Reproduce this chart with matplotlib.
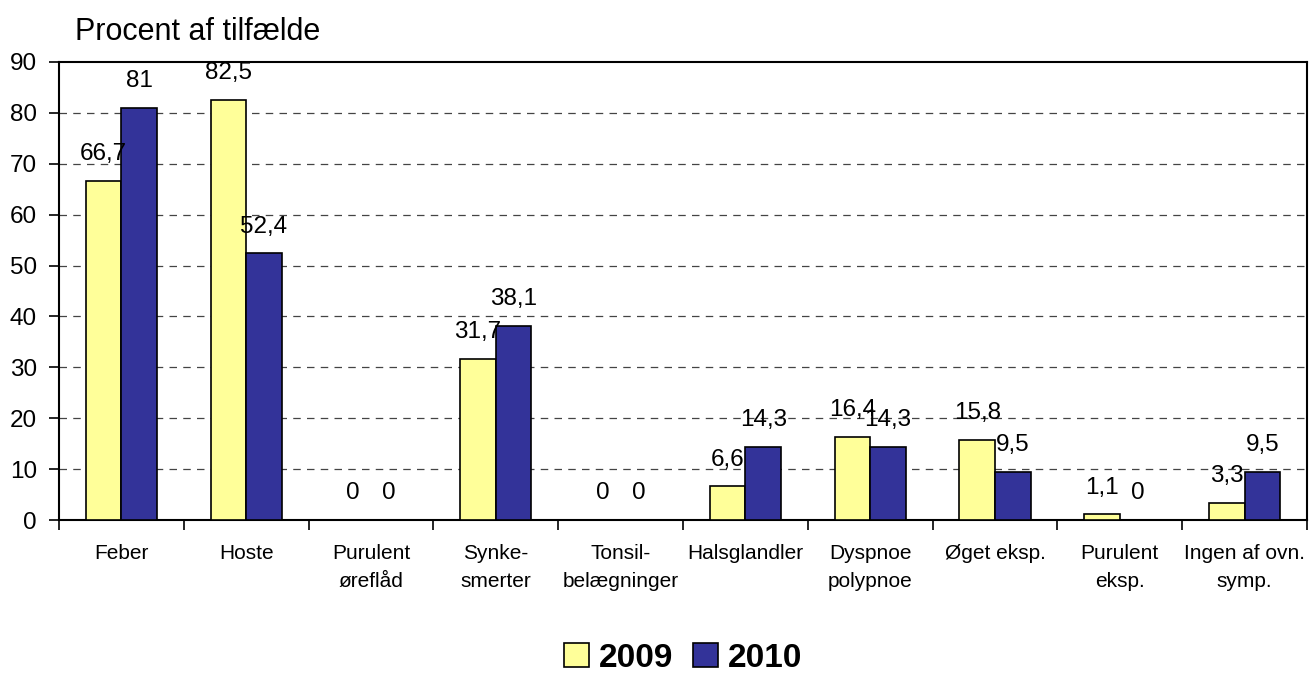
import numpy as np
import matplotlib
matplotlib.use('Agg')
from matplotlib import pyplot as plt
from matplotlib.patches import Patch

plt.rcParams['font.family'] = ['Liberation Sans', 'DejaVu Sans']

categories = ['Feber', 'Hoste', 'Purulent\nøreflåd', 'Synke-\nsmerter', 'Tonsil-\nbelægninger',
              'Halsglandler', 'Dyspnoe\npolypnoe', 'Øget eksp.', 'Purulent\neksp.', 'Ingen af ovn.\nsymp.']
values_2009 = [66.7, 82.5, 0, 31.7, 0, 6.6, 16.4, 15.8, 1.1, 3.3]
values_2010 = [81, 52.4, 0, 38.1, 0, 14.3, 14.3, 9.5, 0, 9.5]
series_names = ['2009', '2010']
yticks = [0, 10, 20, 30, 40, 50, 60, 70, 80, 90]

col_2009 = '#FFFF99'
col_2010 = '#333399'

fig = plt.figure(figsize=(13.11, 6.73), dpi=100)
ax = fig.add_axes([0.045, 0.2273, 0.952, 0.6806])

x = np.arange(len(categories))
w = 0.285
b1 = ax.bar(x - w / 2, values_2009, w, color=col_2009, edgecolor='black', linewidth=1.2, zorder=3)
b2 = ax.bar(x + w / 2, values_2010, w, color=col_2010, edgecolor='black', linewidth=1.2, zorder=3)

def fmt(v):
    return ('%g' % v).replace('.', ',')

for bars, vals in [(b1, values_2009), (b2, values_2010)]:
    for rect, v in zip(bars, vals):
        ax.annotate(fmt(v), (rect.get_x() + rect.get_width() / 2, v),
                    xytext=(0, 15), textcoords='offset points',
                    ha='center', va='baseline', fontsize=17.5, zorder=5)

ax.set_xlim(-0.5, len(categories) - 0.5)
ax.set_ylim(0, 90)
ax.set_yticks(yticks)
ax.set_yticklabels([str(t) for t in yticks], fontsize=17.5)
ax.tick_params(axis='y', length=7, width=1.2, direction='out', pad=9)

ax.set_xticks(np.arange(len(categories) + 1) - 0.5)
ax.set_xticklabels([])
ax.set_xticks(x, minor=True)
ax.set_xticklabels(categories, minor=True, fontsize=15, linespacing=1.65, va='top')
ax.tick_params(axis='x', which='major', length=7, width=1.2, direction='out')
ax.tick_params(axis='x', which='minor', length=0, pad=17)

for t in yticks[1:-1]:
    ax.axhline(t, color='#444444', linestyle=(0, (6, 5)), linewidth=0.9, zorder=1)

for s in ax.spines.values():
    s.set_linewidth(1.5)
    s.set_color('black')

fig.text(0.057, 0.952, 'Procent af tilfælde', fontsize=22, ha='left', va='center')

handles = [Patch(facecolor=col_2009, edgecolor='black', linewidth=1.2),
           Patch(facecolor=col_2010, edgecolor='black', linewidth=1.2)]
fig.legend(handles, series_names, loc='center', bbox_to_anchor=(0.521, 0.022), ncol=2, frameon=False,
           prop={'weight': 'bold', 'size': 24}, handlelength=0.75, handleheight=0.75,
           handletextpad=0.3, columnspacing=0.6)

fig.savefig('out.png', dpi=100)
